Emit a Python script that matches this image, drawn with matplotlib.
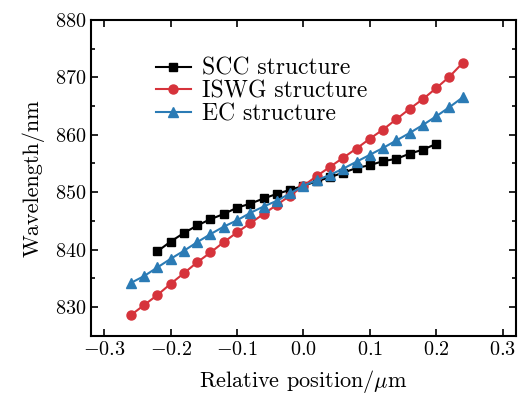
import numpy as np
import matplotlib.pyplot as plt
from matplotlib.ticker import MultipleLocator

plt.rcParams['font.family'] = ['cmr10', 'DejaVu Serif']
plt.rcParams['mathtext.fontset'] = 'cm'
plt.rcParams['axes.formatter.use_mathtext'] = True

x_scc = np.round(np.arange(-0.22, 0.201, 0.02), 2)
y_scc = [839.7, 841.4, 842.9, 844.2, 845.3, 846.2, 847.3, 848.0, 848.9, 849.7, 850.4,
         851.1, 851.9, 852.6, 853.4, 854.2, 854.7, 855.4, 855.8, 856.7, 857.4, 858.4]

x_iswg = np.round(np.arange(-0.26, 0.241, 0.02), 2)
y_iswg = [828.6, 830.35, 832.1, 834.05, 835.9, 837.8, 839.5, 841.3, 843.0, 844.6, 846.2,
          847.8, 849.4, 851.1, 852.8, 854.4, 856.0, 857.6, 859.3, 860.9, 862.7, 864.5,
          866.2, 868.1, 870.1, 872.5]

x_ec = np.round(np.arange(-0.26, 0.241, 0.02), 2)
y_ec = [834.2, 835.4, 836.9, 838.4, 839.8, 841.3, 842.7, 844.0, 845.1, 846.4, 847.5,
        848.5, 849.8, 851.1, 852.1, 853.0, 854.1, 855.3, 856.5, 857.7, 859.0, 860.3,
        861.7, 863.2, 864.8, 866.5]

fig, ax = plt.subplots(figsize=(5.2, 3.96), dpi=100)

ax.plot(x_scc, y_scc, marker="s", ms=6, color="black", lw=1.5, label="SCC structure")
ax.plot(x_iswg, y_iswg, marker="o", ms=6.5, color="#d6333b", lw=1.5, label="ISWG structure")
ax.plot(x_ec, y_ec, marker="^", ms=7.5, color="#2b7bb5", lw=1.5, label="EC structure")

ax.set_xlim(-0.32, 0.32)
ax.set_ylim(825, 880)
ax.xaxis.set_major_locator(MultipleLocator(0.1))
ax.yaxis.set_major_locator(MultipleLocator(10))
ax.yaxis.set_minor_locator(MultipleLocator(5))
ax.tick_params(which="both", direction="in", top=True, right=True, width=1.2, labelsize=14.5)
ax.tick_params(which="major", length=5)
ax.tick_params(which="minor", length=3)
for s in ax.spines.values():
    s.set_linewidth(1.5)

ax.set_xlabel(r"Relative position/$\mu$m", fontsize=16, labelpad=7)
ax.set_ylabel("Wavelength/nm", fontsize=16, labelpad=7)

ax.legend(loc="upper left", bbox_to_anchor=(0.13, 0.91), frameon=False, fontsize=17,
          handlelength=1.5, handletextpad=0.45, labelspacing=0.02, borderaxespad=0)

fig.subplots_adjust(left=0.175, right=0.992, top=0.95, bottom=0.152)
fig.savefig("out.png", dpi=100)
